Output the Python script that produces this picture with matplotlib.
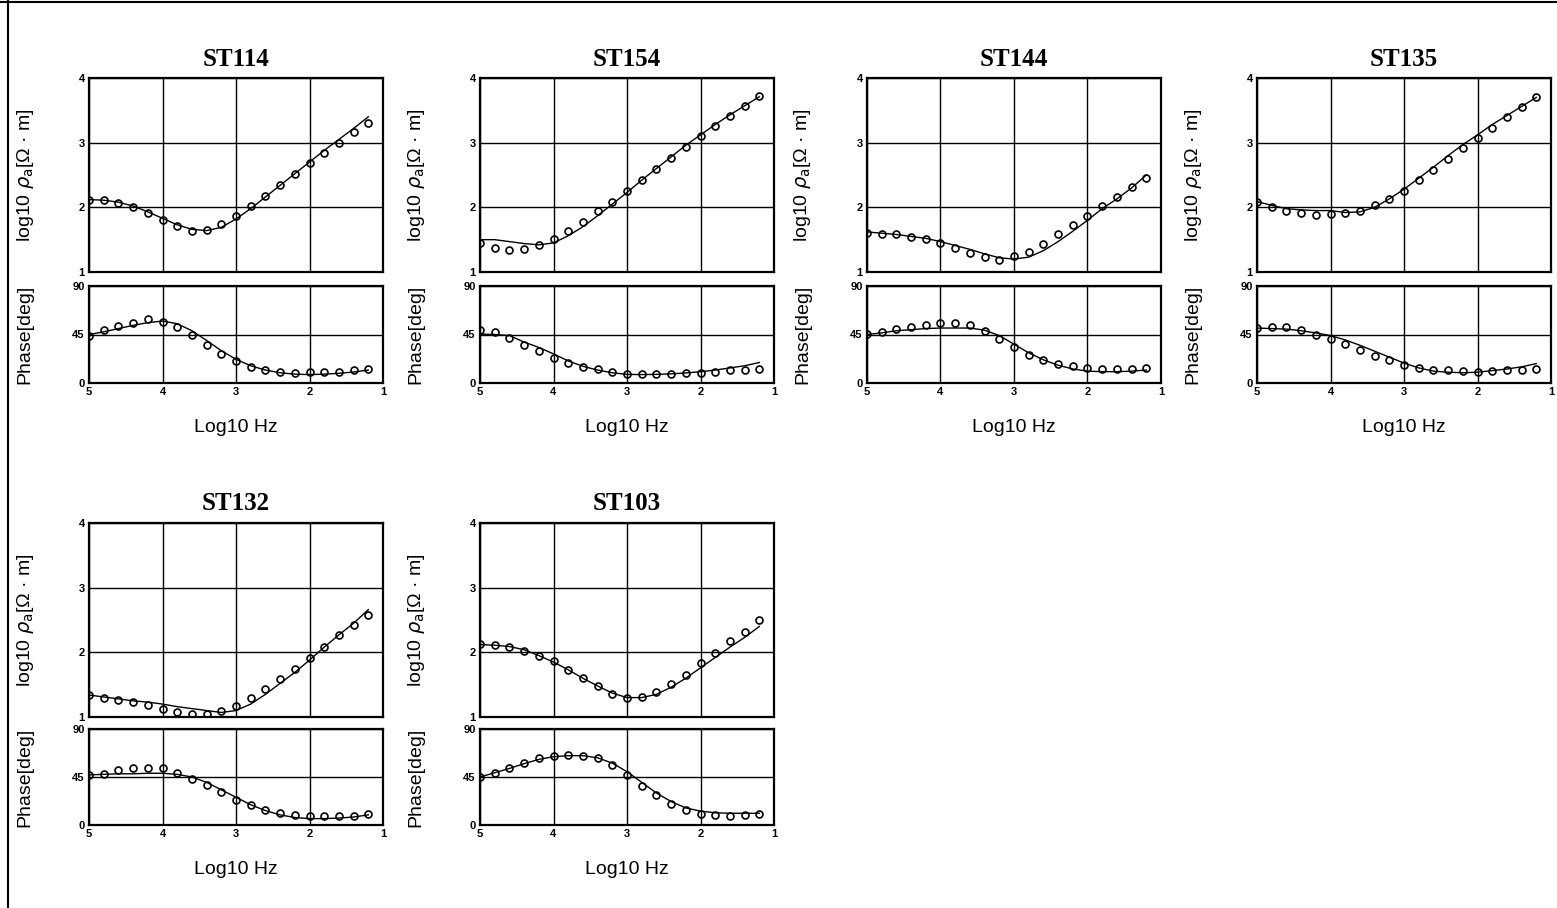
import numpy as np
import matplotlib.pyplot as plt
from matplotlib.lines import Line2D

# log10 frequency of the sounding points
logf = [5.0, 4.8, 4.6, 4.4, 4.2, 4.0, 3.8, 3.6, 3.4, 3.2,
        3.0, 2.8, 2.6, 2.4, 2.2, 2.0, 1.8, 1.6, 1.4, 1.2]

stations = ['ST114', 'ST154', 'ST144', 'ST135', 'ST132', 'ST103']

# apparent resistivity, observed (circles) and model (line)
st114_rho_obs = [2.12, 2.11, 2.07, 2.00, 1.91, 1.81, 1.71, 1.64, 1.65, 1.74,
                 1.86, 2.02, 2.18, 2.34, 2.51, 2.69, 2.84, 2.99, 3.16, 3.31]
st114_rho_fit = [2.12, 2.11, 2.08, 2.02, 1.93, 1.83, 1.73, 1.66, 1.64, 1.69,
                 1.82, 1.98, 2.16, 2.34, 2.52, 2.70, 2.88, 3.05, 3.22, 3.40]
st154_rho_obs = [1.45, 1.37, 1.34, 1.35, 1.41, 1.51, 1.63, 1.77, 1.94, 2.08,
                 2.26, 2.43, 2.59, 2.76, 2.93, 3.10, 3.26, 3.42, 3.56, 3.72]
st154_rho_fit = [1.50, 1.50, 1.47, 1.44, 1.42, 1.45, 1.56, 1.70, 1.87, 2.05,
                 2.23, 2.42, 2.60, 2.78, 2.96, 3.12, 3.28, 3.43, 3.57, 3.71]
st144_rho_obs = [1.61, 1.59, 1.58, 1.54, 1.51, 1.45, 1.37, 1.30, 1.23, 1.19,
                 1.24, 1.31, 1.43, 1.58, 1.72, 1.86, 2.02, 2.16, 2.32, 2.46]
st144_rho_fit = [1.62, 1.60, 1.58, 1.55, 1.52, 1.47, 1.41, 1.35, 1.28, 1.22,
                 1.20, 1.23, 1.33, 1.47, 1.63, 1.80, 1.98, 2.13, 2.30, 2.50]
st135_rho_obs = [2.08, 2.01, 1.95, 1.91, 1.88, 1.89, 1.91, 1.94, 2.04, 2.13,
                 2.26, 2.42, 2.57, 2.74, 2.91, 3.07, 3.23, 3.39, 3.55, 3.71]
st135_rho_fit = [2.09, 2.03, 1.98, 1.96, 1.95, 1.95, 1.92, 1.93, 2.00, 2.13,
                 2.28, 2.45, 2.62, 2.80, 2.97, 3.12, 3.28, 3.42, 3.56, 3.70]
st132_rho_obs = [1.34, 1.30, 1.27, 1.23, 1.18, 1.13, 1.08, 1.04, 1.04, 1.09,
                 1.17, 1.29, 1.44, 1.59, 1.74, 1.92, 2.09, 2.27, 2.43, 2.58]
st132_rho_fit = [1.34, 1.31, 1.28, 1.25, 1.23, 1.20, 1.16, 1.13, 1.10, 1.07,
                 1.10, 1.20, 1.35, 1.52, 1.69, 1.88, 2.08, 2.27, 2.45, 2.66]
st103_rho_obs = [2.13, 2.12, 2.09, 2.02, 1.94, 1.86, 1.73, 1.60, 1.48, 1.36,
                 1.30, 1.31, 1.39, 1.51, 1.65, 1.83, 1.99, 2.17, 2.32, 2.50]
st103_rho_fit = [2.12, 2.11, 2.09, 2.04, 1.95, 1.85, 1.73, 1.60, 1.48, 1.37,
                 1.30, 1.30, 1.35, 1.46, 1.60, 1.76, 1.92, 2.08, 2.23, 2.40]

# phase, observed and model
st114_ph_obs = [44.0, 49.0, 53.0, 56.0, 59.0, 57.0, 52.0, 45.0, 35.7, 27.0,
                20.5, 15.0, 11.8, 10.2, 9.6, 9.9, 10.2, 10.6, 11.8, 13.4]
st114_ph_fit = [45.0, 47.5, 50.5, 53.5, 56.0, 57.5, 55.0, 48.5, 39.5, 30.0,
                22.0, 16.0, 12.0, 9.5, 8.2, 7.8, 8.2, 9.0, 10.2, 12.0]
st154_ph_obs = [49.4, 47.2, 41.7, 35.5, 29.3, 23.1, 18.5, 14.8, 13.0, 9.9,
                8.6, 8.3, 8.3, 8.6, 9.3, 9.3, 10.5, 11.7, 11.7, 13.0]
st154_ph_fit = [45.4, 45.0, 44.0, 38.0, 33.0, 27.0, 20.5, 15.5, 12.0, 9.5,
                8.0, 7.8, 8.0, 8.5, 9.3, 10.5, 12.0, 14.0, 16.0, 19.0]
st144_ph_obs = [45.7, 47.5, 50.0, 51.5, 53.7, 55.5, 55.5, 53.7, 48.0, 41.0,
                33.3, 26.2, 21.6, 17.9, 15.4, 13.9, 13.0, 13.0, 13.0, 13.6]
st144_ph_fit = [45.0, 46.5, 48.5, 49.5, 50.5, 51.0, 51.0, 51.0, 49.0, 44.0,
                36.0, 28.0, 21.5, 16.5, 13.0, 11.0, 10.5, 10.5, 11.0, 12.0]
st135_ph_obs = [50.9, 51.9, 51.5, 49.4, 44.4, 40.7, 36.4, 30.9, 25.3, 21.0,
                16.4, 13.9, 12.3, 11.7, 10.8, 10.2, 10.8, 11.7, 12.3, 13.0]
st135_ph_fit = [51.0, 50.5, 50.0, 48.5, 46.5, 44.0, 40.0, 35.0, 29.5, 24.0,
                18.5, 14.0, 11.0, 10.0, 9.5, 10.0, 11.5, 13.0, 15.0, 18.0]
st132_ph_obs = [47.0, 47.5, 52.0, 53.5, 53.5, 53.0, 48.7, 43.4, 37.6, 30.6,
                23.2, 18.5, 13.7, 11.5, 9.6, 8.3, 8.0, 8.3, 8.9, 9.9]
st132_ph_fit = [47.0, 47.5, 48.0, 48.0, 48.5, 48.5, 47.5, 45.0, 40.0, 33.0,
                26.0, 19.0, 13.5, 9.5, 7.0, 6.0, 6.0, 6.5, 7.5, 9.5]
st103_ph_obs = [44.8, 48.9, 53.6, 57.7, 62.4, 64.9, 65.5, 64.9, 62.4, 55.8,
                47.3, 36.9, 27.8, 19.6, 14.2, 10.7, 9.5, 8.8, 9.5, 10.1]
st103_ph_fit = [45.0, 49.0, 53.0, 57.5, 61.5, 64.0, 65.0, 65.0, 63.0, 58.0,
                50.0, 40.0, 30.0, 22.0, 16.0, 13.0, 11.5, 11.0, 11.0, 11.0]

rho_obs = [st114_rho_obs, st154_rho_obs, st144_rho_obs, st135_rho_obs, st132_rho_obs, st103_rho_obs]
rho_fit = [st114_rho_fit, st154_rho_fit, st144_rho_fit, st135_rho_fit, st132_rho_fit, st103_rho_fit]
ph_obs = [st114_ph_obs, st154_ph_obs, st144_ph_obs, st135_ph_obs, st132_ph_obs, st103_ph_obs]
ph_fit = [st114_ph_fit, st154_ph_fit, st144_ph_fit, st135_ph_fit, st132_ph_fit, st103_ph_fit]

W, H = 1557, 908
fig = plt.figure(figsize=(W / 100, H / 100), dpi=100)
plt.rcParams['font.family'] = ['Liberation Sans', 'DejaVu Sans']

# page frame from the scan
fig.add_artist(Line2D([8 / W, 8 / W], [0, 1], color='black', lw=1.5))
fig.add_artist(Line2D([0, 1], [1 - 2 / H, 1 - 2 / H], color='black', lw=1.5))

lefts = [89, 480, 867, 1257, 89, 480]
rows = [(78, 272, 286, 383), (523, 717, 729, 825)]
aw = 294


def fa(x0, top, bottom):
    return [x0 / W, 1 - bottom / H, aw / W, (bottom - top) / H]


def style(ax):
    for s in ax.spines.values():
        s.set_linewidth(1.6)
    ax.tick_params(length=0, pad=3, labelsize=8)
    for lab in ax.get_xticklabels() + ax.get_yticklabels():
        lab.set_fontweight('bold')
    ax.grid(True, color='black', lw=1.0)
    ax.set_axisbelow(True)


for i, name in enumerate(stations):
    x0 = lefts[i]
    ut, ub, lt, lb = rows[i // 4]

    ax1 = fig.add_axes(fa(x0, ut, ub))
    ax1.plot(logf, rho_fit[i], color='black', lw=1.0)
    ax1.plot(logf, rho_obs[i], 'o', mfc='none', mec='black', ms=5, mew=1.2)
    ax1.set_xlim(5, 1)
    ax1.set_ylim(1, 4)
    ax1.set_xticks([5, 4, 3, 2, 1])
    ax1.set_xticklabels([])
    ax1.set_yticks([1, 2, 3, 4])
    style(ax1)
    ax1.set_title(name, fontsize=18, fontweight='bold', pad=9,
                  family=['Liberation Serif', 'DejaVu Serif'])

    ax2 = fig.add_axes(fa(x0, lt, lb))
    ax2.plot(logf, ph_fit[i], color='black', lw=1.0)
    ax2.plot(logf, ph_obs[i], 'o', mfc='none', mec='black', ms=5, mew=1.2)
    ax2.set_xlim(5, 1)
    ax2.set_ylim(0, 90)
    ax2.set_xticks([5, 4, 3, 2, 1])
    ax2.set_yticks([0, 45, 90])
    style(ax2)

    fig.text((x0 - 64) / W, 1 - (ut + ub) / 2 / H, r'log10 $\rho_{\rm a}$[Ω · m]',
             rotation=90, ha='center', va='center', fontsize=14)
    fig.text((x0 - 64) / W, 1 - (lt + lb) / 2 / H, 'Phase[deg]',
             rotation=90, ha='center', va='center', fontsize=14)
    fig.text((x0 + aw / 2) / W, 1 - (lb + 45) / H, 'Log10 Hz',
             ha='center', va='center', fontsize=14)

fig.savefig('out.png', dpi=100)
